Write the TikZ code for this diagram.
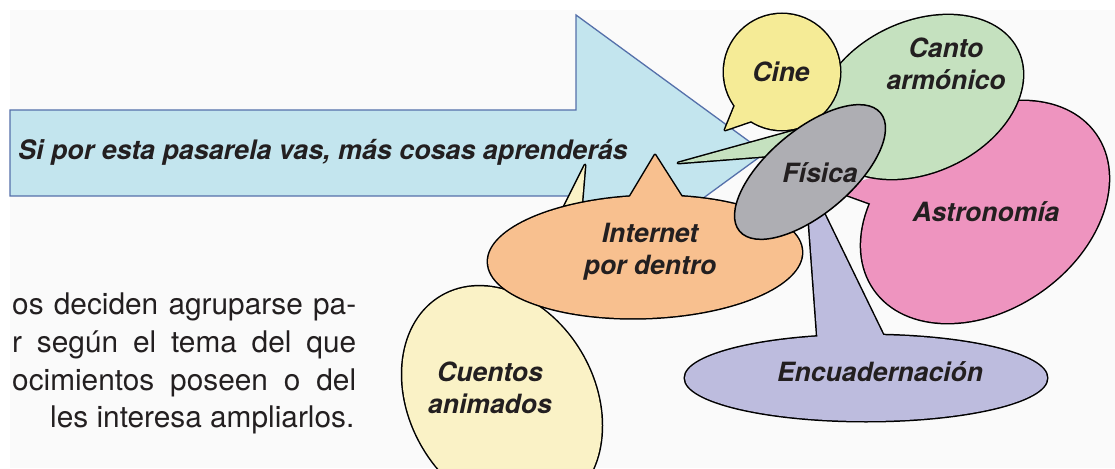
\documentclass[tikz,border=0pt]{standalone}
\usepackage{fontspec}
\setmainfont{TeX Gyre Heros}
\definecolor{ink}{HTML}{231F20}
\definecolor{bgc}{HTML}{FAFAFA}
\definecolor{arrowfill}{HTML}{C3E5EE}
\definecolor{arrowline}{HTML}{5570AA}
\definecolor{cinec}{HTML}{F5EB96}
\definecolor{cantoc}{HTML}{C5E1BF}
\definecolor{astroc}{HTML}{EE94BF}
\definecolor{fisc}{HTML}{AEAEB3}
\definecolor{netc}{HTML}{F8C08F}
\definecolor{cuentc}{HTML}{FAF2C6}
\definecolor{encc}{HTML}{BDBCDE}
% bubble: colour, cx, cy, rx, ry, angle, tail polygon
\newcommand\bub[7]{%
  \draw[line width=3pt,rotate around={#6:(#2,#3)}] (#2,#3) ellipse [x radius=#4,y radius=#5];
  \draw[line width=3pt,line join=round] #7 -- cycle;
  \fill[#1,rotate around={#6:(#2,#3)}] (#2,#3) ellipse [x radius=#4,y radius=#5];
  \fill[#1] #7 -- cycle;}
\begin{document}
\begin{tikzpicture}[x=1pt,y=-1pt,
  lbl/.style={font=\bfseries\itshape\fontsize{26.5}{32}\selectfont, text=ink, align=center, inner sep=0pt},
  body/.style={font=\fontsize{29.8}{36}\selectfont, text=ink, inner sep=0pt, anchor=base west}]
\useasboundingbox (0,0) rectangle (1115,468);
\fill[white] (0,0) rectangle (1115,468);
\fill[bgc] (10,10) rectangle (1115,468);
% big arrow
\draw[fill=arrowfill, draw=arrowline, line width=1.3pt, line join=miter]
  (10,110) -- (576,110) -- (576,15) -- (765,153) -- (576,291) -- (576,196) -- (10,196) -- cycle;
\node[lbl, anchor=west, font=\bfseries\itshape\fontsize{26.85}{32}\selectfont] (pas) at (18,152) {Si por esta pasarela vas, más cosas aprenderás};
% body text
\node[body] (l1) at (12,314) {\makebox[344pt][s]{os deciden agruparse pa-}};
\node[body] (l2) at (12,352) {\makebox[344pt][s]{r según el tema del que}};
\node[body] (l3) at (12,390) {\makebox[344pt][s]{ocimientos poseen o del}};
\node[body] (l4) at (50,427) {les interesa ampliarlos.};
% Encuadernacion
\bub{encc}{866}{378}{181}{43}{0}{(818,345) -- (807,195) -- (817,199) -- (888,345)}
% Astronomia
\draw[line width=3pt,rotate around={35:(985,212)}] (985,212) ellipse [x radius=135,y radius=97];
\draw[line width=3pt] (833,190) -- (880,207);
\fill[astroc,rotate around={35:(985,212)}] (985,212) ellipse [x radius=135,y radius=97];
\fill[astroc] (833,190) -- (880,207) -- (910,165) -- cycle;
% Canto armonico
\bub{cantoc}{920}{97}{108}{75}{25}{(845,150) -- (678,163) -- (840,118)}
% Cine
\bub{cinec}{782}{72}{58}{58}{0}{(738,98) -- (725,130) -- (760,118)}
% Cuentos animados
\bub{cuentc}{502}{400}{120}{92}{-60}{(525,285) -- (585,165) -- (575,285)}
% Internet por dentro
\bub{netc}{645}{257}{157}{61}{2}{(628,200) -- (655,155) -- (685,202)}
% Fisica
\draw[fill=fisc, line width=1.5pt, rotate around={40:(810,172)}] (810,172) ellipse [x radius=92,y radius=42];
% labels
\node[lbl] (cine) at (781,72) {Cine};
\node[lbl] (canto) at (946,64) {Canto\\armónico};
\node[lbl] (fis) at (820,173) {Física};
\node[lbl] (astro) at (986,212) {Astronomía};
\node[lbl] (net) at (650,252) {Internet\\por dentro};
\node[lbl] (cuent) at (490,388) {Cuentos\\animados};
\node[lbl] (enc) at (880,372) {Encuadernación};
\end{tikzpicture}
\end{document}
